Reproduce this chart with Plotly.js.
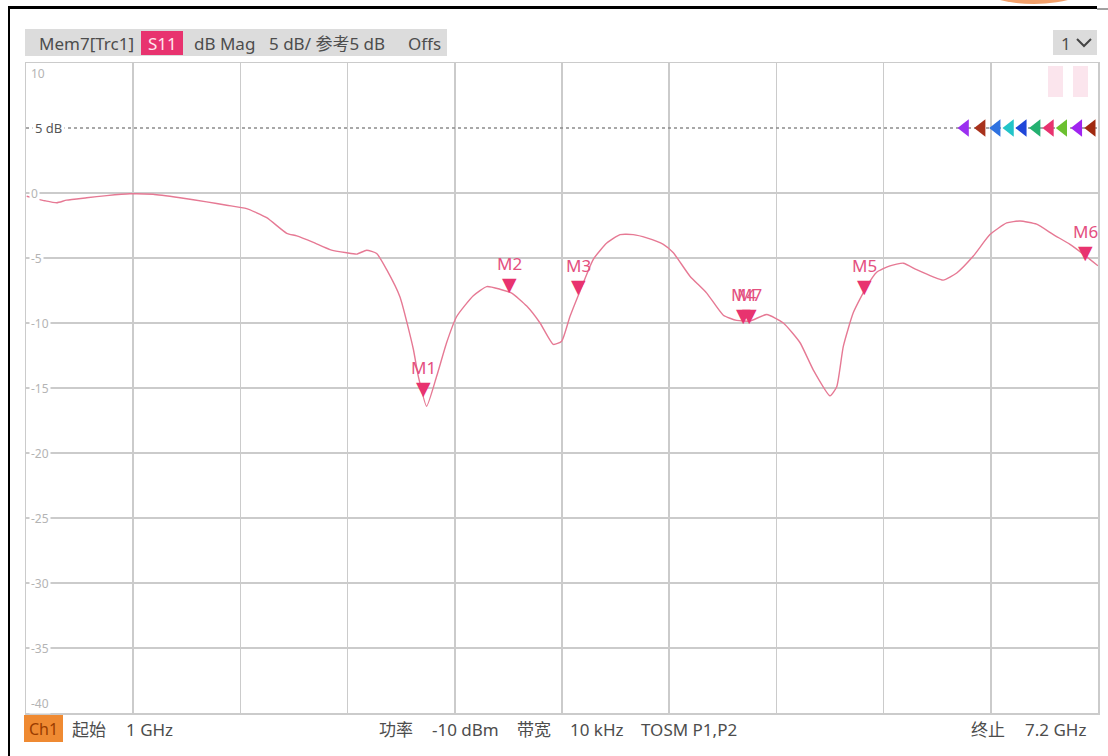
<!DOCTYPE html>
<html>
<head>
<meta charset="utf-8">
<script src="https://cdn.plot.ly/plotly-3.0.1.min.js"></script>
<style>
html,body{margin:0;padding:0;background:#fff;}
#chart{width:1108px;height:756px;}
</style>
</head>
<body>
<div id="chart"></div>
<script>
// ---- data ----
const freqGHz = [1.004,1.062,1.110,1.178,1.235,1.351,1.467,1.601,1.735,1.891,2.045,2.161,2.276,2.392,2.508,2.566,2.662,2.758,2.855,2.913,2.970,3.028,3.086,3.163,3.240,3.269,3.317,3.375,3.433,3.491,3.587,3.665,3.741,3.809,3.896,3.973,4.050,4.098,4.146,4.204,4.281,4.359,4.436,4.512,4.590,4.686,4.744,4.840,4.937,5.033,5.110,5.187,5.284,5.380,5.476,5.553,5.650,5.689,5.727,5.785,5.862,5.920,5.997,6.074,6.151,6.247,6.305,6.383,6.479,6.575,6.672,6.749,6.845,6.942,7.038,7.115,7.200];
const s11dB = [-0.25,-0.45,-0.6,-0.75,-0.55,-0.37,-0.2,-0.06,-0.1,-0.37,-0.68,-0.94,-1.2,-1.9,-3.1,-3.3,-3.8,-4.35,-4.6,-4.7,-4.4,-4.65,-5.9,-8.0,-12.0,-14.1,-16.4,-14.1,-11.5,-9.5,-7.9,-7.2,-7.4,-7.7,-8.7,-10.0,-11.65,-11.4,-9.5,-7.55,-5.1,-3.85,-3.2,-3.2,-3.45,-3.95,-4.6,-6.4,-7.7,-9.4,-9.8,-9.85,-9.35,-10.0,-11.5,-13.6,-15.6,-14.9,-11.8,-9.2,-7.2,-6.1,-5.6,-5.4,-5.9,-6.45,-6.7,-6.15,-4.85,-3.2,-2.3,-2.15,-2.4,-3.2,-3.95,-4.7,-5.6];

const markerNames = ['M1','M2','M3','M4','M7','M5','M6'];
const markerFreq  = [3.298,3.799,4.198,5.149,5.187,5.849,7.125];
const markerDb    = [-15.5,-7.55,-7.7,-9.9,-9.9,-7.7,-5.1];

const refLevelDb = 5;
const refLabel = '5 dB';
const refArrowFreq = [6.431,6.527,6.614,6.691,6.765,6.845,6.922,6.999,7.086,7.164];
const refArrowColors = ['#9b30f0','#a8321c','#2f72e0','#22c4c8','#1f46d8','#24b070','#e8336f','#6cc030','#a024f0','#a02a10'];

const yTickVals   = [10,0,-5,-10,-15,-20,-25,-30,-35,-40];
const yTickLabels = ['10','0','-5','-10','-15','-20','-25','-30','-35','-40'];

const startGHz = 1, stopGHz = 7.2;
const headerTexts = ['Mem7[Trc1]','S11','dB Mag','5 dB/ 参考5 dB','Offs','1'];
const footerTexts = ['Ch1','起始','1 GHz','功率','-10 dBm','带宽','10 kHz','TOSM P1,P2','终止','7.2 GHz'];

// ---- layout helpers (pixel -> paper) ----
const L=26, R=1098, T=63, B=713;
const X = px => (px-L)/(R-L);
const Y = py => (B-py)/(B-T);
const FONT = "'Noto Sans','Noto Sans CJK SC',sans-serif";
const txtColor = '#4d4d4d';

const traces = [
  {x:[startGHz,stopGHz], y:[refLevelDb,refLevelDb], mode:'lines',
   line:{color:'#8c8c8c', width:1.5, dash:'dot'}, hoverinfo:'skip'},
  {x:freqGHz, y:s11dB, mode:'lines', line:{color:'#e67994', width:1.4, shape:'spline', smoothing:0.5}},
  {x:refArrowFreq, y:refArrowFreq.map(()=>refLevelDb), mode:'markers',
   marker:{symbol:'triangle-left', size:15, color:refArrowColors}, cliponaxis:false}
];

const annotations = [];
// y tick labels, inside the plot
yTickVals.forEach((v,i)=>{
  let ys = 0;
  if(i===0) ys=-10;
  if(i===yTickVals.length-1) ys=10;
  annotations.push({xref:'paper', yref:'y', x:0, y:v, xanchor:'left', yanchor:'middle',
    xshift:3, yshift:ys, showarrow:false, text:yTickLabels[i], bgcolor:'#fff', borderpad:1,
    font:{family:FONT, size:12, color:'#b4b4b4'}});
});
annotations.push({xref:'paper', yref:'y', x:0, y:refLevelDb, xanchor:'left', yanchor:'middle',
  xshift:6, showarrow:false, text:refLabel, bgcolor:'#fff', borderpad:2,
  font:{family:FONT, size:13, color:'#555'}});

// markers: triangle tip on the trace point, label above
markerNames.forEach((n,i)=>{
  annotations.push({xref:'x', yref:'y', x:markerFreq[i], y:markerDb[i], xanchor:'center', yanchor:'bottom',
    yshift:-6, showarrow:false, text:'▼', font:{family:'DejaVu Sans', size:19, color:'#e8336f'}});
  annotations.push({xref:'x', yref:'y', x:markerFreq[i], y:markerDb[i], xanchor:'center', yanchor:'bottom',
    yshift:14, showarrow:false, text:n, font:{family:FONT, size:17, color:'#e4507f'}});
});

// header
const hy = Y(43);
[[37,'left',0],[162,'center',1],[192,'left',2],[267,'left',3],[406,'left',4],[1066,'center',5]].forEach(([px,anc,k])=>{
  annotations.push({xref:'paper', yref:'paper', x:X(px), y:hy, xanchor:anc, yanchor:'middle', showarrow:false,
    text:headerTexts[k], font:{family:FONT, size:17, color: k===1 ? '#ffe6ee' : txtColor}});
});

// footer
const fy = Y(729);
[[43.5,'center',0],[70,'left',1],[124,'left',2],[377,'left',3],[430,'left',4],[515,'left',5],[568,'left',6],[639,'left',7],[969,'left',8],[1088,'right',9]].forEach(([px,anc,k])=>{
  annotations.push({xref:'paper', yref:'paper', x:X(px), y:fy, xanchor:anc, yanchor:'middle', showarrow:false,
    text:footerTexts[k], font:{family:FONT, size: k===0 ? 16 : 17, color: k===0 ? '#9a3c00' : txtColor}});
});

const chevron = `M${X(1077)},${Y(39)} L${X(1084)},${Y(46)} L${X(1091)},${Y(39)}`;

const shapes = [
  // header boxes
  {type:'rect', xref:'paper', yref:'paper', x0:X(25), x1:X(447), y0:Y(56), y1:Y(29), fillcolor:'#dcdcdc', line:{width:0}},
  {type:'rect', xref:'paper', yref:'paper', x0:X(141), x1:X(183), y0:Y(55), y1:Y(31), fillcolor:'#e8336f', line:{width:0}},
  {type:'rect', xref:'paper', yref:'paper', x0:X(1053), x1:X(1097), y0:Y(55), y1:Y(30), fillcolor:'#dcdcdc', line:{width:0}},
  {type:'path', xref:'paper', yref:'paper', path:chevron, line:{color:'#444', width:2}},
  // Ch1 box
  {type:'rect', xref:'paper', yref:'paper', x0:X(24), x1:X(63), y0:Y(742), y1:Y(715), fillcolor:'#ef8a32', line:{width:0}},
  // faint pink boxes at top right
  {type:'rect', xref:'paper', yref:'paper', x0:X(1048), x1:X(1063), y0:Y(97), y1:Y(66), fillcolor:'rgba(240,160,190,0.28)', line:{width:0}},
  {type:'rect', xref:'paper', yref:'paper', x0:X(1073), x1:X(1088), y0:Y(97), y1:Y(66), fillcolor:'rgba(240,160,190,0.28)', line:{width:0}},
  // outer frame lines
  {type:'line', xref:'paper', yref:'paper', x0:X(8), x1:X(1097), y0:Y(7.5), y1:Y(7.5), line:{color:'#000', width:3}},
  {type:'line', xref:'paper', yref:'paper', x0:X(1097), x1:X(1108), y0:Y(9), y1:Y(9), line:{color:'#444', width:1}},
  {type:'line', xref:'paper', yref:'paper', x0:X(9), x1:X(9), y0:Y(6), y1:Y(756), line:{color:'#000', width:2}},
  // orange blob at top right
  {type:'circle', xref:'paper', yref:'paper', x0:X(975), x1:X(1093), y0:Y(4), y1:Y(-40), fillcolor:'#f2a06a', line:{width:0}}
];

const layout = {
  width:1108, height:756,
  margin:{l:L, r:1108-R, t:T, b:756-B, pad:0},
  paper_bgcolor:'#fff', plot_bgcolor:'#fff',
  showlegend:false,
  font:{family:FONT},
  xaxis:{range:[startGHz,stopGHz], tickmode:'linear', tick0:startGHz, dtick:(stopGHz-startGHz)/10,
    showticklabels:false, ticks:'', showgrid:true, gridcolor:'#cbcbcb', gridwidth:1.5,
    zeroline:false, showline:true, mirror:true, linecolor:'#cbcbcb', linewidth:1.5},
  yaxis:{range:[-40,10], tickmode:'array', tickvals:yTickVals, showticklabels:false, ticks:'',
    showgrid:true, gridcolor:'#cbcbcb', gridwidth:1.5,
    zeroline:false, showline:true, mirror:true, linecolor:'#cbcbcb', linewidth:1.5},
  shapes:shapes,
  annotations:annotations
};

Plotly.newPlot('chart', traces, layout, {displayModeBar:false, staticPlot:true});
</script>
</body>
</html>
